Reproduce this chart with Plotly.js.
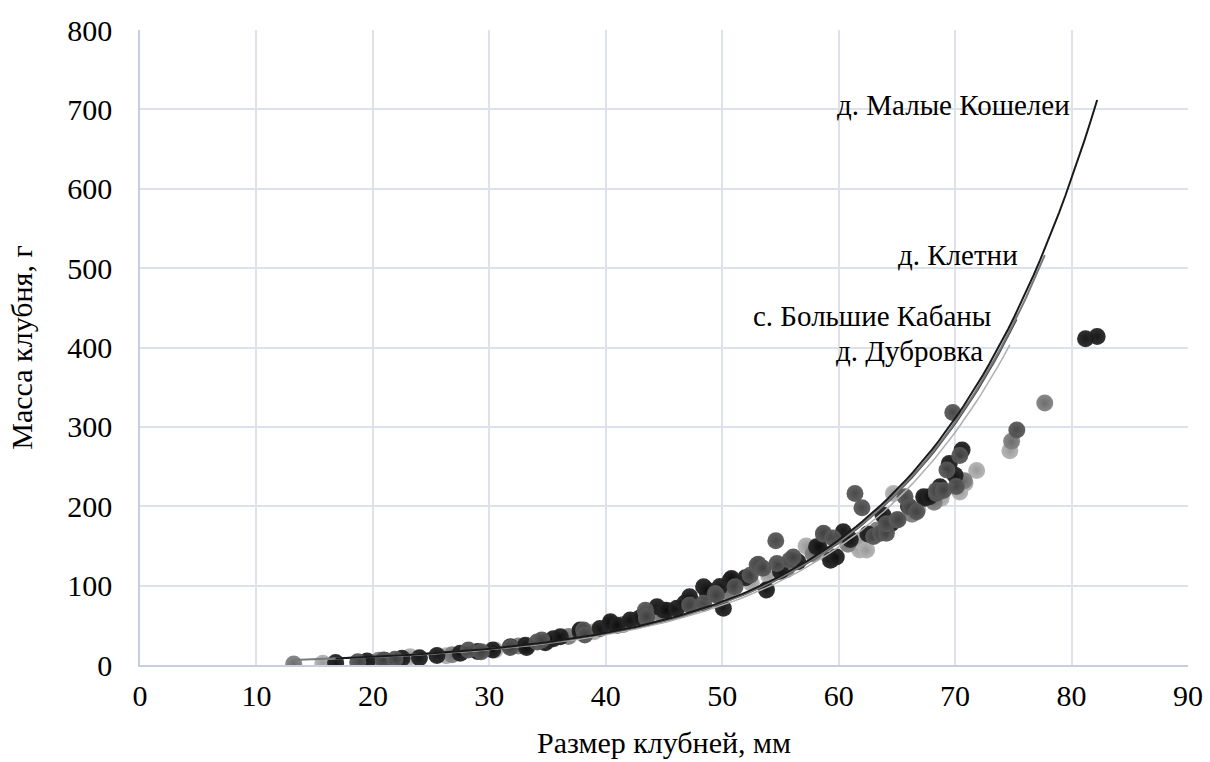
<!DOCTYPE html>
<html>
<head>
<meta charset="utf-8">
<script src="https://cdn.plot.ly/plotly-3.0.1.min.js"></script>
<style>
html,body{margin:0;padding:0;background:#fff;}
#chart{width:1210px;height:762px;}
</style>
</head>
<body>
<div id="chart"></div>
<script>
// Series names (villages)
const seriesNames = ["д. Малые Кошелеи", "д. Клетни", "с. Большие Кабаны", "д. Дубровка"];

// д. Малые Кошелеи (black)
const mkX = [16.8,19.5,21.0,22.5,24.0,25.5,27.5,29.0,30.3,31.8,33.1,33.2,34.8,35.5,36.1,37.8,37.8,39.5,40.4,40.4,41.0,42.1,43.0,44.4,45.0,45.2,46.1,46.8,47.2,48.4,48.7,48.7,49.8,50.1,50.7,50.8,52.0,53.8,55.0,56.5,58.1,58.3,59.3,59.8,60.4,61.0,62.5,63.8,64.5,66.0,67.3,67.4,67.8,68.7,69.5,70.0,70.6,81.2,82.2];
const mkY = [3,5,6,8.4,9.2,12,14.7,17,18.9,23,25,22,28,33,35.6,42,44,46,54.6,52.5,50,56.7,60,73.5,69,69,71.4,78,86,98.6,92,94.5,99,71.4,107,109,110,94.5,118,130,149,149,132,136,168,158,165,189,178,200,212,210,212,224.6,254,239,271,411,414];

// д. Клетни (medium gray)
const klX = [13.2,20.5,26.8,32.5,36.8,41.5,44.8,50.5,55.5,57.8,60.8,63.3,66.3,68.2,70.8,74.85,77.7];
const klY = [1.3,6,13,24,36,51,63,92,120,140,152,170,190,205,232,282,330];

// с. Большие Кабаны (dark gray)
const bkX = [18.7,20.9,21.9,28.2,29.3,31.8,34.1,34.5,38.1,38.2,43.4,43.5,43.5,47.2,48.4,49.4,49.5,51.1,52.4,53.0,53.1,53.5,54.6,54.7,55.8,56.1,58.7,58.7,59.5,61.4,62.0,63.0,63.6,64.1,64.1,65.0,65.1,65.7,66.1,66.7,68.4,68.4,69.0,69.3,69.8,70.1,70.4,75.3];
const bkY = [4.2,6.3,7.1,18.9,16.8,22,29,31.5,44,37.8,69,58.8,61,75.6,77.7,90,88,98.6,113,126,127,122,156.6,128,132,136,164.6,166,160,216,198,162,166,166,178,183,183,212,199,193,216,220,220,245.6,318,225,264,296];

// д. Дубровка (light gray)
const dbX = [15.7,23.2,26.3,30.5,35.0,39.0,42.5,45.5,47.5,52.5,54.0,57.2,57.3,59.0,61.8,61.8,62.4,64.7,66.8,68.8,70.4,70.85,71.85,74.7];
const dbY = [2.1,10.5,11.7,19,30,42,55,66,77.7,103,112,150,149,140,145,157,145,216,196,210,218,229,245,270];

// Exponential trend-line coefficients (y = a·e^(k·x))
const trendA = [2.66, 2.62, 2.60, 2.51];
const trendK = [0.068, 0.068, 0.068, 0.068];

// Label anchor points (right edge of text) in data units
const labelX = [80.0, 75.6, 73.25, 72.6];
const labelY = [706, 516, 440, 396];

const xTicks = [0,10,20,30,40,50,60,70,80,90];
const yTicks = [0,100,200,300,400,500,600,700,800];

const seriesX = [mkX, klX, bkX, dbX];
const seriesY = [mkY, klY, bkY, dbY];
const markerColors = ["#262626", "#838383", "#5a5a5a", "#b3b3b3"];
const edgeColors   = ["#0d0d0d", "#666666", "#404040", "#969696"];
const lineColors   = ["#1a1a1a", "#7a7a7a", "#4d4d4d", "#b0b0b0"];
const lineWidths   = [2, 2, 1.5, 1.5];
const drawOrder = [3, 1, 0, 2];

const traces = [];
drawOrder.forEach(i => {
  traces.push({
    type: "scatter", mode: "markers", name: seriesNames[i],
    x: seriesX[i], y: seriesY[i],
    marker: {size: 17, color: markerColors[i], opacity: 0.95,
             gradient: {type: "radial", color: edgeColors[i]},
             line: {width: 0}},
    hoverinfo: "x+y", showlegend: false
  });
});
[3, 2, 1, 0].forEach(i => {
  const xmin = Math.min(...seriesX[i]), xmax = Math.max(...seriesX[i]);
  const n = 120, tx = [], ty = [];
  for (let j = 0; j <= n; j++) {
    const xv = xmin + (xmax - xmin) * j / n;
    tx.push(xv); ty.push(trendA[i] * Math.exp(trendK[i] * xv));
  }
  traces.push({type: "scatter", mode: "lines", x: tx, y: ty,
    line: {color: lineColors[i], width: lineWidths[i]}, hoverinfo: "skip", showlegend: false});
});

const fam = "Liberation Serif";
const annotations = seriesNames.map((s, i) => ({
  x: labelX[i], y: labelY[i], xref: "x", yref: "y", text: s, showarrow: false,
  xanchor: "right", yanchor: "middle", font: {family: fam, size: 29}
}));

const layout = {
  width: 1210, height: 762,
  margin: {l: 140, r: 22, t: 30, b: 97},
  paper_bgcolor: "#fff", plot_bgcolor: "#fff",
  font: {family: fam, color: "#000"},
  showlegend: false,
  xaxis: {range: [0, 90], tickvals: xTicks, ticktext: xTicks.map(String),
    showgrid: true, gridcolor: "#dde1ea", gridwidth: 1.5, zeroline: false,
    showline: true, linecolor: "#c7cfdd", linewidth: 1.5, ticks: "",
    ticklabelstandoff: 3,
    tickfont: {family: fam, size: 30},
    title: {text: "Размер клубней, мм", font: {family: fam, size: 30}, standoff: 21}},
  yaxis: {range: [0, 800], tickvals: yTicks, ticktext: yTicks.map(String),
    showgrid: true, gridcolor: "#dde1ea", gridwidth: 1.5, zeroline: false,
    showline: true, linecolor: "#c7cfdd", linewidth: 1.5, ticks: "",
    ticklabelstandoff: 20,
    tickfont: {family: fam, size: 30},
    title: {text: "Масса клубня, г", font: {family: fam, size: 30}, standoff: 26}},
  annotations: annotations
};
Plotly.newPlot("chart", traces, layout, {displayModeBar: false});
</script>
</body>
</html>
